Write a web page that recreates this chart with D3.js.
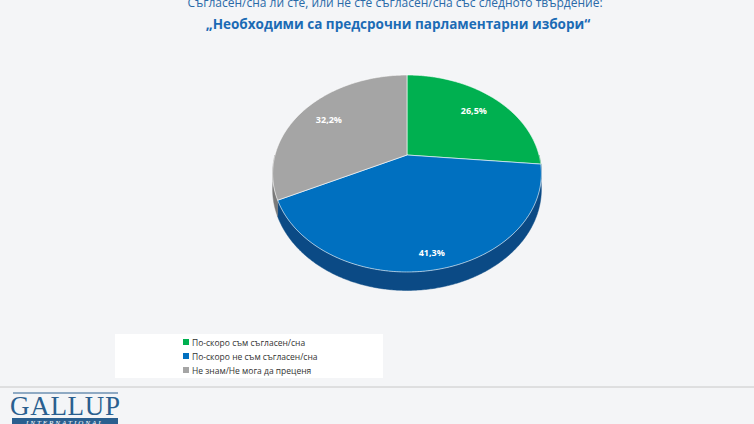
<!DOCTYPE html>
<html><head><meta charset="utf-8">
<script src="https://cdn.jsdelivr.net/npm/d3@7"></script>
<style>body{margin:0;background:#f4f5f7}svg{display:block}</style>
</head><body>
<svg id="c" width="754" height="424"></svg>
<script>
const categories = ["По-скоро съм съгласен/сна", "По-скоро не съм съгласен/сна", "Не знам/Не мога да преценя"];
const values = [26.5, 41.3, 32.2];
const labels = ["26,5%", "41,3%", "32,2%"];
const colors = ["#00b050", "#0070c0", "#a5a5a5"];
const sideColors = ["#007a38", "#0b4a85", "#7a7a7a"];
const titleLine1 = "Съгласен/сна ли сте, или не сте съгласен/сна със следното твърдение:";
const titleLine2 = "„Необходими са предсрочни парламентарни избори“";

const svg = d3.select("#c");
svg.append("rect").attr("width",754).attr("height",424).attr("fill","#f4f5f7");

svg.append("text").attr("x",395).attr("y",7).attr("text-anchor","middle")
  .attr("font-family","Open Sans, sans-serif").attr("font-size",12).attr("fill","#2a6aa8").text(titleLine1);
svg.append("text").attr("x",398).attr("y",29).attr("text-anchor","middle")
  .attr("font-family","Open Sans, sans-serif").attr("font-weight","bold").attr("font-size",13.5).attr("fill","#1b6bb5").text(titleLine2);

const cx=407, cy=155, B=132, A=95, k=0.1878, depth=15;
function proj(theta, r, dz){
  const c = -Math.cos(theta)*r;
  const den = 1 - k*c;
  return [cx + B*Math.sin(theta)*r/den, cy + (A*c + (dz||0))/den];
}
const pie = d3.pie().sort(null).value(d=>d)(values);
const line = d3.line();
const g = svg.append("g");
pie.forEach((p,i)=>{
  const a0=Math.max(p.startAngle,Math.PI/2), a1=Math.min(p.endAngle,3*Math.PI/2);
  if(a1<=a0) return;
  const ts=d3.range(a0,a1,0.01).concat([a1]);
  const top=ts.map(t=>proj(t,1,0)), bot=ts.map(t=>proj(t,1,depth)).reverse();
  g.append("path").attr("d",line(top.concat(bot))+"Z").attr("fill",sideColors[i]).attr("stroke",sideColors[i]).attr("stroke-width",0.5);
});
pie.forEach((p,i)=>{
  const ts=d3.range(p.startAngle,p.endAngle,0.01).concat([p.endAngle]);
  const pts=[[cx,cy]].concat(ts.map(t=>proj(t,1,0)));
  g.append("path").attr("d",line(pts)+"Z").attr("fill",colors[i]).attr("stroke","#fff").attr("stroke-width",0.6);
});
pie.forEach((p,i)=>{
  const m=(p.startAngle+p.endAngle)/2;
  const [x,y]=proj(m, i===1?0.88:0.75, 0);
  g.append("text").attr("x",x).attr("y",y+3).attr("text-anchor","middle")
   .attr("font-family","Open Sans, sans-serif").attr("font-weight","bold").attr("font-size",9).attr("fill","#fff").text(labels[i]);
});

svg.append("rect").attr("x",115).attr("y",334).attr("width",268).attr("height",44).attr("fill","#fff");
const leg = svg.append("g").selectAll("g").data(categories).join("g")
  .attr("transform",(d,i)=>`translate(183,${343+i*14})`);
leg.append("rect").attr("x",0).attr("y",-4).attr("width",6).attr("height",6).attr("fill",(d,i)=>colors[i]);
leg.append("text").attr("x",9).attr("y",2.5).attr("font-family","Open Sans, sans-serif").attr("font-size",8.5).attr("fill","#333").text(d=>d);

svg.append("line").attr("x1",0).attr("x2",754).attr("y1",387).attr("y2",387).attr("stroke","#c8c8c8");
svg.append("line").attr("x1",13).attr("x2",118).attr("y1",393).attr("y2",393).attr("stroke","#2a5f8f").attr("stroke-width",1);
svg.append("text").attr("x",10).attr("y",415).attr("font-family","Liberation Serif, serif").attr("font-size",27).attr("fill","#2a5f8f")
  .attr("textLength",110).text("GALLUP");
svg.append("rect").attr("x",12).attr("y",418).attr("width",106).attr("height",6).attr("fill","#2a5f8f");
svg.append("text").attr("x",65).attr("y",424.5).attr("text-anchor","middle").attr("font-family","Liberation Serif, serif").attr("font-style","italic").attr("font-size",7).attr("fill","#fff").attr("letter-spacing",2).text("INTERNATIONAL");
</script>
</body></html>
